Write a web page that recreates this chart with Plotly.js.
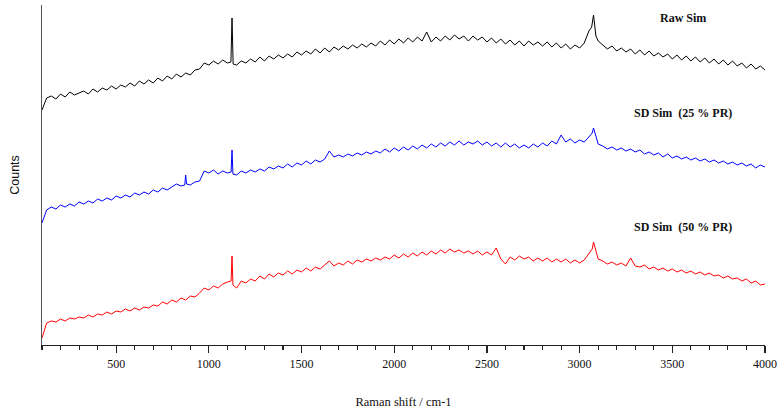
<!DOCTYPE html>
<html><head><meta charset="utf-8">
<script src="https://cdn.plot.ly/plotly-3.0.1.min.js"></script>
<style>html,body{margin:0;padding:0;background:#fff}#chart{width:784px;height:413px}</style>
</head><body><div id="chart"></div>
<script>
// Raman shift grid start / step (cm-1)
const shiftStart = 100;
const shiftStep = 25;

// Raw Sim (black), 100..4000 cm-1
const rawSim = [
 235,247,249,246,251,248,253,250,252,254,251,256,253,257,255,259,256,260,258,262,
 259,264,261,265,262,267,264,269,266,271,268,272,270,275,276,282,280,284,281,285,
 282,327,280,284,282,286,283,288,284,289,286,290,287,291,288,293,290,294,291,296,
 292,297,293,298,295,299,296,300,297,301,298,302,299,304,300,305,301,306,302,307,
 303,308,304,313,303,308,304,309,305,310,306,309,304,309,305,308,303,307,302,306,
 301,305,300,304,299,304,300,303,299,303,298,302,297,301,296,300,297,302,314,330,
 304,300,296,299,294,297,293,296,291,295,290,294,289,292,288,291,286,290,285,289,
 284,288,283,287,282,286,281,285,280,284,279,282,277,281,276,279,
 275];
// extra narrow-peak shoulder points [shift, counts]
const rawSimExtra = [[1119,283],[1131,281],[3065,318],[3088,309]];

// SD Sim (25 % PR) (blue)
const sd25 = [
 122,135,138,136,140,138,141,139,143,141,144,142,146,144,147,145,149,147,150,148,
 152,150,153,151,155,153,157,155,158,161,159,170,160,163,164,174,172,175,171,174,
 172,195,170,174,172,175,173,176,174,178,176,179,177,181,178,182,180,184,181,185,
 183,186,194,188,190,188,191,189,192,190,193,191,194,192,196,193,197,194,198,195,
 199,196,200,197,201,198,202,199,203,200,204,200,203,201,204,200,203,199,202,198,
 202,198,201,197,200,197,201,198,202,199,204,201,210,203,206,202,205,203,208,217,
 201,199,196,198,195/*3200*/,197,194,196,193,195,191,193,190,192,188,191,187,189,186,188,
 185,187,184,186,183,185,182,184,181,183,180,182,179,181,177,180,
 178];
const sd25Extra = [[870,160],[880,161],[1120,173],[1130,171],[3068,212]];

// SD Sim (50 % PR) (red)
const sd50 = [
 7,22,24,23,26,24,27,26,28,27,30,28,31,30,33,31,34,33,36,34,
 37,35,38,37,40,39,43,41,45,43,47,45,49,48,52,57,55,59,57,61,
 63,89,57,64,62,66,64,69,66,71,68,72,70,74,71,75,73,77,74,78,
 76,80,84,79,82,80,84,81,85,83,86,84,87,85,88,86,90,87,91,88,
 92,89,93,90,94,91,95,92,96,93,95,92,94,91,94,90,93,90,97,86,
 81,88,85,89,86,88,84,87,84,87,83,86,83,86,82,85,82,85,92,103,
 86,84,81,83,80,82,79,87,79,78,80,76,78,75,77,74,76,73,75,72,
 74,71,73,70,72,69,70,67,69,66,67,64,66,62,64,60,
 61];
const sd50Extra = [[1120,64],[1130,60],[3068,96]];

const seriesNames = ["Raw Sim", "SD Sim  (25 % PR)", "SD Sim  (50 % PR)"];
const seriesColors = ["#000000", "#0000ff", "#ff0000"];
const xTickVals = [500,1000,1500,2000,2500,3000,3500,4000];

function buildSeries(ys, extra){
  const pts = ys.map((v,i)=>[shiftStart+shiftStep*i, v]).concat(extra);
  pts.sort((a,b)=>a[0]-b[0]);
  return {x: pts.map(p=>p[0]), y: pts.map(p=>p[1])};
}

const allSeries = [[rawSim, rawSimExtra],[sd25, sd25Extra],[sd50, sd50Extra]];
const traces = allSeries.map((s,k)=>{
  const d = buildSeries(s[0], s[1]);
  return {x:d.x, y:d.y, type:'scatter', mode:'lines',
    line:{color:seriesColors[k], width:1}, name:seriesNames[k], hoverinfo:'skip'};
});

const labelPos = [[3560, 327],[3560, 232],[3560, 118]];
const annotations = seriesNames.map((t,k)=>({
  x: labelPos[k][0], y: labelPos[k][1], xref:'x', yref:'y', text:'<b>'+t+'</b>',
  showarrow:false, font:{family:'Liberation Serif, Times New Roman, serif', size:12, color:'#111'}
}));

const layout = {
  width:784, height:413,
  margin:{l:42, r:19, t:5, b:68},
  paper_bgcolor:'#fff', plot_bgcolor:'#fff',
  showlegend:false,
  xaxis:{
    range:[100,4000], showgrid:false, zeroline:false,
    showline:true, linecolor:'#222', linewidth:1.3,
    ticks:'outside', ticklen:7, tickwidth:1.2, tickcolor:'#222',
    tickmode:'array', tickvals:xTickVals,
    tickfont:{family:'Liberation Serif, Times New Roman, serif', size:12, color:'#111'},
    minor:{dtick:100, tick0:0, ticks:'outside', ticklen:4, tickwidth:1.1, tickcolor:'#222', showgrid:false},
    title:{text:'Raman shift / cm-1', standoff:27, font:{family:'Liberation Serif, Times New Roman, serif', size:12.5, color:'#111'}}
  },
  yaxis:{
    range:[0,340], showgrid:false, zeroline:false,
    showline:true, linecolor:'#555', linewidth:1.3,
    ticks:'', showticklabels:false,
    title:{text:'Counts', standoff:18, font:{family:'Liberation Sans, Arial, sans-serif', size:12.5, color:'#111'}}
  },
  annotations: annotations
};

Plotly.newPlot('chart', traces, layout, {staticPlot:true, displayModeBar:false});
</script>
</body></html>
